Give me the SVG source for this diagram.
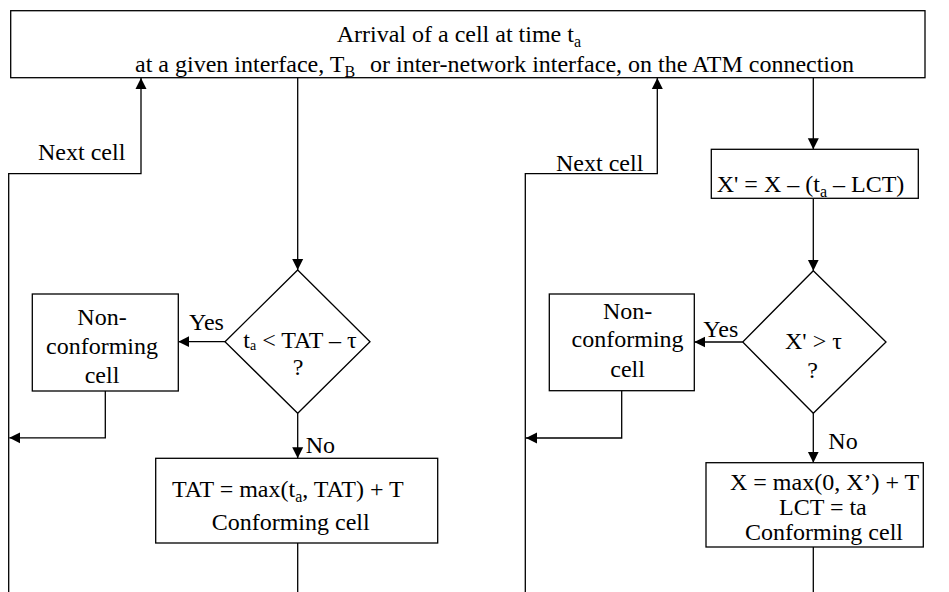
<svg xmlns="http://www.w3.org/2000/svg" width="949" height="592" viewBox="0 0 949 592">
<style>
  .box { fill: #fff; stroke: #000; stroke-width: 1.3; }
  .edge { fill: none; stroke: #000; stroke-width: 1.3; }
  text { font-family: "Liberation Serif", "Times New Roman", serif; font-size: 24px; fill: #000; }
  .sub { font-size: 16px; }
  .mid { text-anchor: middle; }
</style>
<defs>
  <marker id="arr" viewBox="0 0 11 12" refX="11" refY="6" markerWidth="11" markerHeight="12" markerUnits="userSpaceOnUse" orient="auto">
    <path d="M0,0.5 L11,6 L0,11.5 z" fill="#000"/>
  </marker>
</defs>
<rect width="949" height="592" fill="#fff"/>

<g id="connectors">
  <path class="edge" d="M8.7,592 V173.7 H141 V78" marker-end="url(#arr)"/>
  <path class="edge" d="M297.7,77.7 V270" marker-end="url(#arr)"/>
  <path class="edge" d="M225,341.7 H178.3" marker-end="url(#arr)"/>
  <path class="edge" d="M105.3,391 V437.8 H9.3" marker-end="url(#arr)"/>
  <path class="edge" d="M297.7,413.3 V458.3" marker-end="url(#arr)"/>
  <path class="edge" d="M297.7,543 V592"/>
  <path class="edge" d="M525.3,592 V173.7 H657.3 V78" marker-end="url(#arr)"/>
  <path class="edge" d="M813.3,77.7 V149.3" marker-end="url(#arr)"/>
  <path class="edge" d="M813.3,198.3 V270.7" marker-end="url(#arr)"/>
  <path class="edge" d="M742.7,342 H694.3" marker-end="url(#arr)"/>
  <path class="edge" d="M621.7,390.7 V438 H526" marker-end="url(#arr)"/>
  <path class="edge" d="M813.3,413.3 V462.7" marker-end="url(#arr)"/>
  <path class="edge" d="M813.3,547 V592"/>
  <text x="38" y="160">Next cell</text>
  <text x="556" y="170.7">Next cell</text>
  <text x="189" y="330">Yes</text>
  <text x="703.3" y="337.3">Yes</text>
  <text x="305.7" y="453">No</text>
  <text x="828.3" y="449.3">No</text>
</g>

<g id="arrival">
  <rect class="box" x="10.7" y="10.7" width="914.3" height="67"/>
  <text x="336.7" y="42.3">Arrival of a cell at time t<tspan class="sub" dy="5">a</tspan></text>
  <text x="135" y="71.7">at a given interface, T<tspan class="sub" dy="5">B</tspan><tspan x="370" dy="-5">or inter-network interface, on the ATM connection</tspan></text>
</g>

<g id="decision1">
  <polygon class="box" points="297.7,270 370,341.7 297.7,413.3 225,341.7"/>
  <text x="243.3" y="347.7">t<tspan font-size="14" dy="2">a</tspan><tspan dy="-2"> &lt; TAT – τ</tspan></text>
  <text class="mid" x="298" y="375">?</text>
</g>

<g id="nonconf1">
  <rect class="box" x="32.3" y="294" width="146" height="97"/>
  <text class="mid" x="102" y="325">Non-</text>
  <text class="mid" x="102" y="354.3">conforming</text>
  <text class="mid" x="102" y="383.3">cell</text>
</g>

<g id="conf1">
  <rect class="box" x="155.7" y="458.3" width="282" height="84.7"/>
  <text x="172" y="497.3">TAT = max(t<tspan class="sub" dy="5">a</tspan><tspan dy="-5">, TAT) + T</tspan></text>
  <text x="211.7" y="530">Conforming cell</text>
</g>

<g id="update">
  <rect class="box" x="711.3" y="149.3" width="207" height="49"/>
  <text x="716.7" y="191.5">X' = X – (t<tspan class="sub" dy="5">a</tspan><tspan dy="-5"> – LCT)</tspan></text>
</g>

<g id="decision2">
  <polygon class="box" points="813.3,270.7 886,342 813.3,413.3 742.7,342"/>
  <text x="785" y="349.3">X' &gt; τ</text>
  <text class="mid" x="812.7" y="378.3">?</text>
</g>

<g id="nonconf2">
  <rect class="box" x="549.3" y="294" width="145" height="96.7"/>
  <text class="mid" x="627.6" y="319">Non-</text>
  <text class="mid" x="627.6" y="347.3">conforming</text>
  <text class="mid" x="627.6" y="376.7">cell</text>
</g>

<g id="conf2">
  <rect class="box" x="706" y="462.7" width="217.3" height="84.3"/>
  <text x="730" y="490">X = max(0, X’) + T</text>
  <text x="779" y="515">LCT = ta</text>
  <text x="745" y="540">Conforming cell</text>
</g>
</svg>
